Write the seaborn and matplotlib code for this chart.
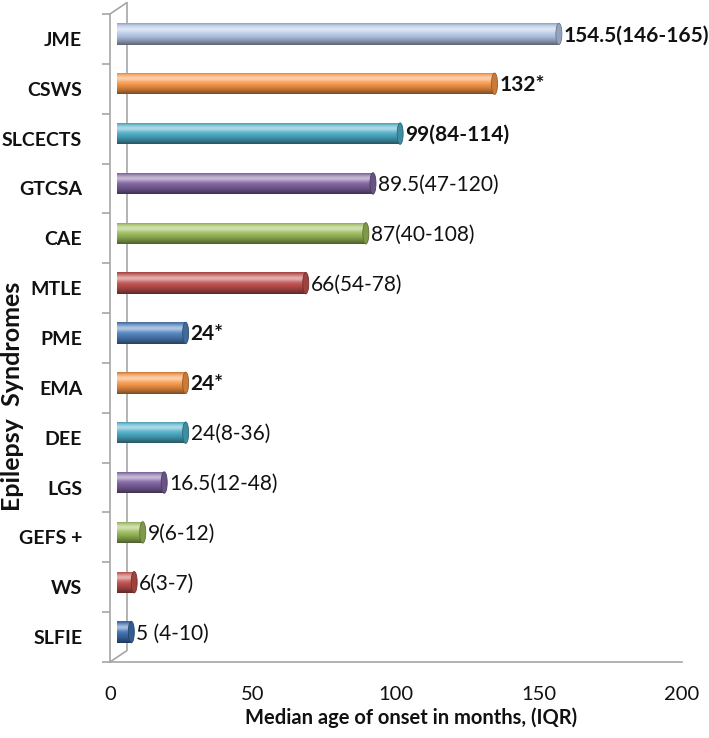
import numpy as np
import pandas as pd
import matplotlib
matplotlib.use("Agg")
import matplotlib.pyplot as plt
import seaborn as sns
from matplotlib.patches import Ellipse
from matplotlib.colors import to_rgb

# ---------------- data ----------------
syndromes = ["JME", "CSWS", "SLCECTS", "GTCSA", "CAE", "MTLE", "PME",
             "EMA", "DEE", "LGS", "GEFS +", "WS", "SLFIE"]
median_onset = [154.5, 132, 99, 89.5, 87, 66, 24, 24, 24, 16.5, 9, 6, 5]
value_labels = ["154.5(146-165)", "132*", "99(84-114)", "89.5(47-120)",
                "87(40-108)", "66(54-78)", "24*", "24*", "24(8-36)",
                "16.5(12-48)", "9(6-12)", "6(3-7)", "5 (4-10)"]
label_weights = ["bold", "bold", "bold", "normal", "normal", "normal", "bold",
                 "bold", "normal", "normal", "normal", "normal", "normal"]
bar_colors = ["#B4C7E7", "#F79646", "#4BACC6", "#8064A2", "#9BBB59", "#C0504D",
              "#4F81BD", "#F79646", "#4BACC6", "#8064A2", "#9BBB59", "#C0504D",
              "#3E70B2"]
x_ticks = [0, 50, 100, 150, 200]

df = pd.DataFrame({"syndrome": syndromes, "onset": median_onset})

# ---------------- style ----------------
sns.set_theme(style="white")
plt.rcParams["font.family"] = ["Lato", "DejaVu Sans"]
AX_GRAY = "#a6a6a6"
TXT = "#111111"

fig = plt.figure(figsize=(7.09, 7.38), dpi=100)
ax = fig.add_axes([110 / 709, 76 / 738, 572 / 709, 648 / 738])

sns.barplot(data=df, x="onset", y="syndrome", hue="syndrome",
            palette=bar_colors, legend=False, orient="h", width=0.43,
            saturation=1, ax=ax, zorder=3)

ax.set_xlim(0, 200)
ax.set_ylim(len(syndromes) - 0.5, -0.5)

# pixel -> data conversions for the pseudo-3D depth offset
ax_w_px = ax.bbox.width
ax_h_px = ax.bbox.height
px_x = 200 / ax_w_px                  # data units per pixel (x)
px_y = len(syndromes) / ax_h_px       # data units per pixel (y)
depth_dx = 7 * px_x
depth_dy = 5 * px_y
cap_w = 6 * px_x

t = np.linspace(0, 1, 64)
light = 0.55 * np.exp(-((t - 0.28) / 0.16) ** 2)
dark = 0.5 * np.clip((t - 0.5) / 0.5, 0, 1) ** 1.4 + 0.18 * np.exp(-(t / 0.07) ** 2)

for patch, col, lab, wt in zip(ax.patches, bar_colors, value_labels, label_weights):
    base = np.array(to_rgb(col))
    patch.set_x(patch.get_x() + depth_dx)
    patch.set_y(patch.get_y() - depth_dy)
    patch.set_edgecolor("none")
    x0, y0 = patch.get_x(), patch.get_y()
    w, h = patch.get_width(), patch.get_height()
    x1 = x0 + w
    # cylinder shading
    grad = base[None, :] * (1 - dark[:, None]) + (1 - base[None, :]) * light[:, None]
    grad = np.clip(grad, 0, 1)[:, None, :]
    im = ax.imshow(grad, extent=[x0, x1, y0 + h, y0], aspect="auto",
                   origin="upper", zorder=3.1, interpolation="bilinear")
    im.set_clip_path(patch)
    # end cap
    capc = np.clip(base * 0.82, 0, 1)
    ax.add_patch(Ellipse((x1, y0 + h / 2), width=cap_w, height=h,
                         facecolor=capc, edgecolor=np.clip(base * 0.6, 0, 1),
                         linewidth=0.6, zorder=3.2))
    ax.text(x1 + cap_w / 2 + 2 * px_x, y0 + h / 2 + 1.5 * px_y, lab,
            ha="left", va="center", fontsize=15, fontweight=wt, color=TXT,
            zorder=4, clip_on=False)

ax.set_xlim(0, 200)
ax.set_ylim(len(syndromes) - 0.5, -0.5)

# axes styling
for s in ["top", "right"]:
    ax.spines[s].set_visible(False)
for s in ["left", "bottom"]:
    ax.spines[s].set_color(AX_GRAY)
    ax.spines[s].set_linewidth(1.2)

ax.set_xticks(x_ticks)
ax.set_xticklabels([str(v) for v in x_ticks], fontsize=14.5, color=TXT)
ax.tick_params(axis="x", direction="out", length=6, width=1.2, color=AX_GRAY, pad=11)
ax.set_yticks(range(len(syndromes)))
ax.set_yticklabels(syndromes, fontsize=14, fontweight="bold", color=TXT)
ax.set_yticks(np.arange(-0.5, len(syndromes) + 0.5, 1), minor=True)
ax.tick_params(axis="y", which="major", length=0, pad=20)
ax.tick_params(axis="y", which="minor", direction="out", length=6, width=1.2,
               color=AX_GRAY, left=True)

# back wall lines (pseudo-3D)
ox = 17 / ax_w_px
oy = 11.5 / ax_h_px
ax.plot([0, ox, ox, 0], [1, 1 + oy, oy, 0], transform=ax.transAxes,
        color=AX_GRAY, linewidth=1.2, clip_on=False, zorder=1)

ax.set_xlabel("Median age of onset in months, (IQR)", fontsize=14.5,
              fontweight="bold", color=TXT, va="center")
ax.xaxis.set_label_coords(0.526, -0.0865)
ax.set_ylabel("Epilepsy  Syndromes", fontsize=18, fontweight="bold", color=TXT,
              va="center")
ax.yaxis.set_label_coords(-0.170, 0.41)

fig.savefig("out.png", dpi=100)
